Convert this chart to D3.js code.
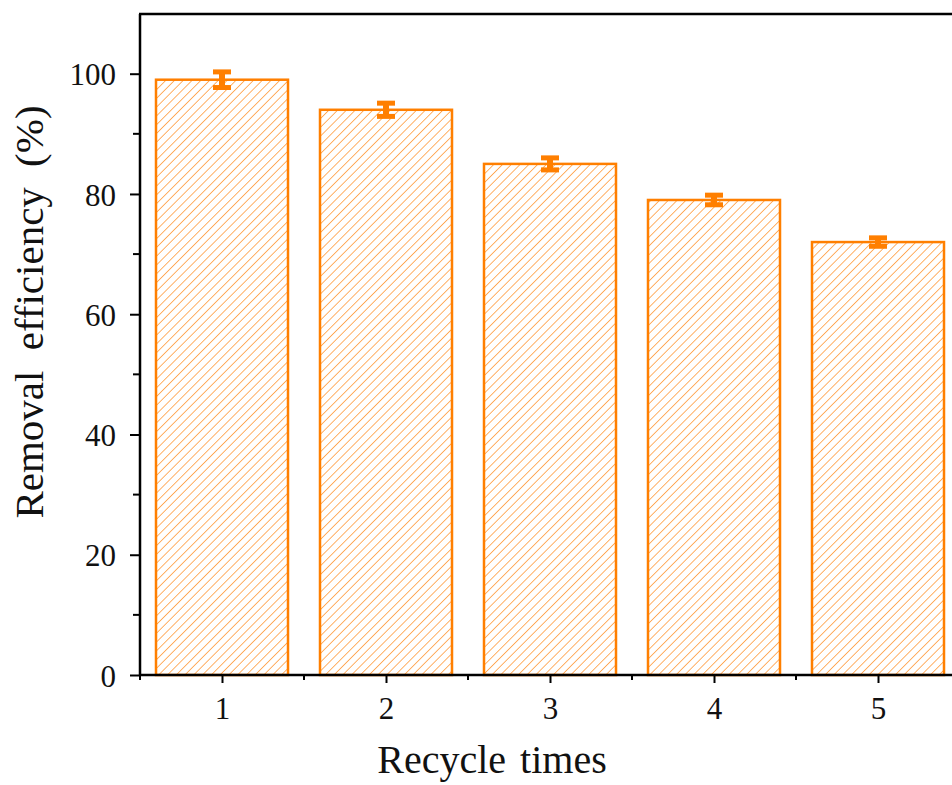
<!DOCTYPE html>
<meta charset="utf-8">
<html lang="en">
  <head>
    <style>
      body { margin: 0; background: #fff; }
      text { font-family: "Liberation Serif", "Times New Roman", serif; fill: #111; }
    </style>
  </head>
  <body>
    <script src="https://d3js.org/d3.v7.min.js"></script>
    <svg></svg>
    <script>

      var cycles = [1, 2, 3, 4, 5];
      var efficiency = [99, 94, 85, 79, 72];
      var errors = [1.3, 1.1, 1.0, 0.8, 0.7];
      var yTicks = [0, 20, 40, 60, 80, 100];

      var width = 952, height = 785;
      var mLeft = 140, mTop = 14, mBottom = 675;
      var orange = "#ff7f00";

      var svg = d3.select("svg")
        .attr("width", width)
        .attr("height", height);

      var defs = svg.append("defs");
      var pat = defs.append("pattern")
        .attr("id", "hatch")
        .attr("patternUnits", "userSpaceOnUse")
        .attr("width", 6.2)
        .attr("height", 6.2)
        .attr("patternTransform", "rotate(45)");
      pat.append("line")
        .attr("x1", 0).attr("y1", 0)
        .attr("x2", 0).attr("y2", 6.2)
        .attr("stroke", "#ff8f26")
        .attr("stroke-width", 1.4);

      var x = d3.scaleLinear()
        .domain([0.5, 5.5])
        .range([mLeft, mLeft + 164 * 5]);

      var y = d3.scaleLinear()
        .domain([0, 110])
        .range([mBottom, mBottom - 6.013 * 110]);

      var barW = 132;

      // bars
      svg.selectAll(".bar")
        .data(cycles)
        .enter().append("rect")
        .attr("class", "bar")
        .attr("x", function(d) { return x(d) - barW / 2; })
        .attr("y", function(d, i) { return y(efficiency[i]); })
        .attr("width", barW)
        .attr("height", function(d, i) { return mBottom - y(efficiency[i]); })
        .attr("fill", "url(#hatch)")
        .attr("stroke", orange)
        .attr("stroke-width", 2.5);

      // error bars
      var eb = svg.selectAll(".err")
        .data(cycles)
        .enter().append("g")
        .attr("class", "err");
      eb.append("line")
        .attr("x1", function(d) { return x(d); })
        .attr("x2", function(d) { return x(d); })
        .attr("y1", function(d, i) { return y(efficiency[i] + errors[i]); })
        .attr("y2", function(d, i) { return y(efficiency[i] - errors[i]); })
        .attr("stroke", orange)
        .attr("stroke-width", 6);
      eb.selectAll(".cap")
        .data(function(d, i) { return [[d, efficiency[i] + errors[i]], [d, efficiency[i] - errors[i]]]; })
        .enter().append("line")
        .attr("x1", function(d) { return x(d[0]) - 9; })
        .attr("x2", function(d) { return x(d[0]) + 9; })
        .attr("y1", function(d) { return y(d[1]); })
        .attr("y2", function(d) { return y(d[1]); })
        .attr("stroke", orange)
        .attr("stroke-width", 5);

      // axes
      var yAxis = d3.axisLeft(y)
        .tickValues(yTicks)
        .tickSize(10)
        .tickPadding(8)
        .tickFormat(d3.format("d"));
      var gy = svg.append("g")
        .attr("transform", "translate(" + mLeft + ",0)")
        .call(yAxis);
      gy.select(".domain").remove();
      gy.selectAll(".tick line").attr("stroke", "#000").attr("stroke-width", 2);
      gy.selectAll(".tick text").attr("font-size", 31).attr("dx", -6).attr("dy", "0.36em");
      gy.selectAll(".minor")
        .data([10, 30, 50, 70, 90])
        .enter().append("line")
        .attr("x1", -7).attr("x2", 0)
        .attr("y1", function(d) { return y(d); })
        .attr("y2", function(d) { return y(d); })
        .attr("stroke", "#000").attr("stroke-width", 2);

      var xAxis = d3.axisBottom(x)
        .tickValues(cycles)
        .tickSize(8)
        .tickPadding(14)
        .tickFormat(d3.format("d"));
      var gx = svg.append("g")
        .attr("transform", "translate(0," + mBottom + ")")
        .call(xAxis);
      gx.select(".domain").remove();
      gx.selectAll(".tick line").attr("stroke", "#000").attr("stroke-width", 2);
      gx.selectAll(".tick text").attr("font-size", 31);
      gx.selectAll(".minor")
        .data([0.5, 1.5, 2.5, 3.5, 4.5, 5.5])
        .enter().append("line")
        .attr("x1", function(d) { return x(d); })
        .attr("x2", function(d) { return x(d); })
        .attr("y1", 0).attr("y2", 5)
        .attr("stroke", "#000").attr("stroke-width", 2);

      // frame
      svg.append("line")
        .attr("x1", mLeft).attr("x2", mLeft)
        .attr("y1", mTop).attr("y2", mBottom + 1)
        .attr("stroke", "#000").attr("stroke-width", 2.5);
      svg.append("line")
        .attr("x1", mLeft - 1).attr("x2", width)
        .attr("y1", mBottom).attr("y2", mBottom)
        .attr("stroke", "#000").attr("stroke-width", 2.5);
      svg.append("line")
        .attr("x1", mLeft - 1).attr("x2", width)
        .attr("y1", mTop).attr("y2", mTop)
        .attr("stroke", "#000").attr("stroke-width", 2.5);

      // titles
      svg.append("text")
        .attr("x", 492)
        .attr("y", 773)
        .attr("text-anchor", "middle")
        .attr("font-size", 40)
        .attr("word-spacing", 4)
        .text("Recycle times");

      svg.append("text")
        .attr("transform", "translate(43,312) rotate(-90)")
        .attr("text-anchor", "middle")
        .attr("font-size", 41)
        .attr("word-spacing", 10)
        .text("Removal efficiency (%)");

    </script>
  </body>
</html>
